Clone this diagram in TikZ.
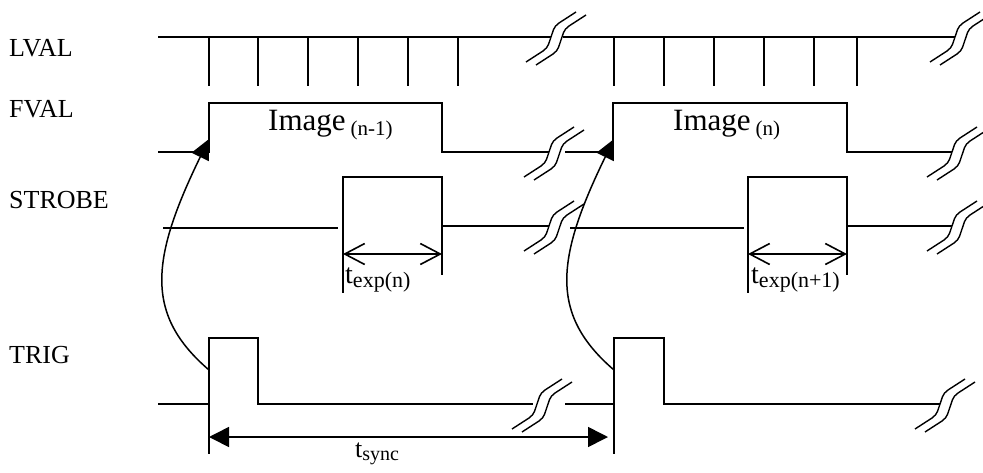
\documentclass[tikz,border=0pt]{standalone}
\usepackage{fontspec}
\setmainfont{Liberation Serif}
\usetikzlibrary{arrows.meta}

\begin{document}
\begin{tikzpicture}[x=1pt, y=-1pt,
  wave/.style={line width=1.8pt},
  guide/.style={line width=1.2pt},
  brkline/.style={line width=1.4pt},
  sig/.style={anchor=base west, inner sep=0pt, font=\fontsize{26}{26}\selectfont},
  txt/.style={anchor=base west, inner sep=0pt},
  trigger/.style={line width=1.5pt, -{Triangle[length=20pt,width=19pt]}},
  span/.style={line width=1.6pt,
    {Straight Barb[length=20pt,width=21pt]}-{Straight Barb[length=20pt,width=21pt]}},
  period/.style={line width=1.6pt,
    {Triangle[length=20pt,width=20pt]}-{Triangle[length=20pt,width=20pt]}},
  brk/.pic={
    \foreach \dx/\dy in {0/0,10/3}
      \draw[brkline, shift={(\dx,\dy)}] (-25,25) -- (-8,14)
        .. controls (-2,10) and (-2,5) .. (0,0)
        .. controls (2,-5) and (2,-10) .. (8,-14) -- (25,-25);
  }]
\useasboundingbox (0,0) rectangle (983,472);

\node[sig] (lval)   at (9,56)  {LVAL};
\node[sig] (fval)   at (9,117) {FVAL};
\node[sig] (strobe) at (9,208) {STROBE};
\node[sig] (trig)   at (9,363) {TRIG};

% LVAL
\draw[wave] (158,37) -- (551,37);
\draw[wave] (563,37) -- (955,37);
\foreach \x in {209,258,308,358,408,458,614,664,714,764,814,857}
  \draw[wave] (\x,37) -- (\x,86);

% FVAL
\draw[wave] (158,152) -- (209,152) -- (209,103) -- (442,103) -- (442,152) -- (549,152);
\draw[wave] (565,152) -- (613,152) -- (613,103) -- (847,103) -- (847,152) -- (952,152);
\node[txt, font=\fontsize{31}{31}\selectfont] (img1) at (268,130)
  {Image\hspace{5pt}\raisebox{-5pt}{\fontsize{21}{21}\selectfont(n-1)}};
\node[txt, font=\fontsize{31}{31}\selectfont] (img2) at (673,130)
  {Image\hspace{5pt}\raisebox{-5pt}{\fontsize{21}{21}\selectfont(n)}};

% STROBE
\draw[wave] (163,228) -- (338,228);
\draw[wave] (343,228) -- (343,177) -- (442,177) -- (442,226) -- (549,226);
\draw[wave] (570,228) -- (744,228);
\draw[wave] (748,228) -- (748,177) -- (847,177) -- (847,226) -- (952,226);
\draw[guide] (343,228) -- (343,293);
\draw[guide] (442,226) -- (442,275);
\draw[guide] (748,228) -- (748,293);
\draw[guide] (847,226) -- (847,275);
\coordinate (exp1a) at (343,254);
\coordinate (exp1b) at (442,254);
\coordinate (exp2a) at (748,254);
\coordinate (exp2b) at (847,254);
\draw[span] (exp1a) -- (exp1b);
\draw[span] (exp2a) -- (exp2b);
\node[txt, font=\fontsize{28}{28}\selectfont] (texp1) at (345,283)
  {t\raisebox{-4pt}{\fontsize{22}{22}\selectfont exp(n)}};
\node[txt, font=\fontsize{28}{28}\selectfont] (texp2) at (751,283)
  {t\raisebox{-4pt}{\fontsize{22}{22}\selectfont exp(n+1)}};

% TRIG
\draw[wave] (158,404) -- (209,404) -- (209,338) -- (258,338) -- (258,404) -- (533,404);
\draw[wave] (565,404) -- (614,404) -- (614,338) -- (664,338) -- (664,404) -- (940,404);
\draw[wave] (209,404) -- (209,454);
\draw[wave] (614,404) -- (614,454);
\coordinate (synca) at (209,437);
\coordinate (syncb) at (608,437);
\draw[period] (synca) -- (syncb);
\node[txt, font=\fontsize{26}{26}\selectfont] (tsync) at (355,457)
  {t\raisebox{-3pt}{\fontsize{20}{20}\selectfont sync}};

% trigger to frame start
\coordinate (trig1) at (209,370);
\coordinate (fval1) at (209,139);
\coordinate (trig2) at (614,370);
\coordinate (fval2) at (614,139);
\draw[trigger] (trig1) .. controls (145,315) and (150,260) .. (fval1);
\draw[trigger] (trig2) .. controls (550,315) and (555,260) .. (fval2);

% breaks
\foreach \x/\y in {551/37,955/37,549/152,952/152,549/226,952/226,537/404,940/404}
  \pic at (\x,\y) {brk};
\end{tikzpicture}
\end{document}
